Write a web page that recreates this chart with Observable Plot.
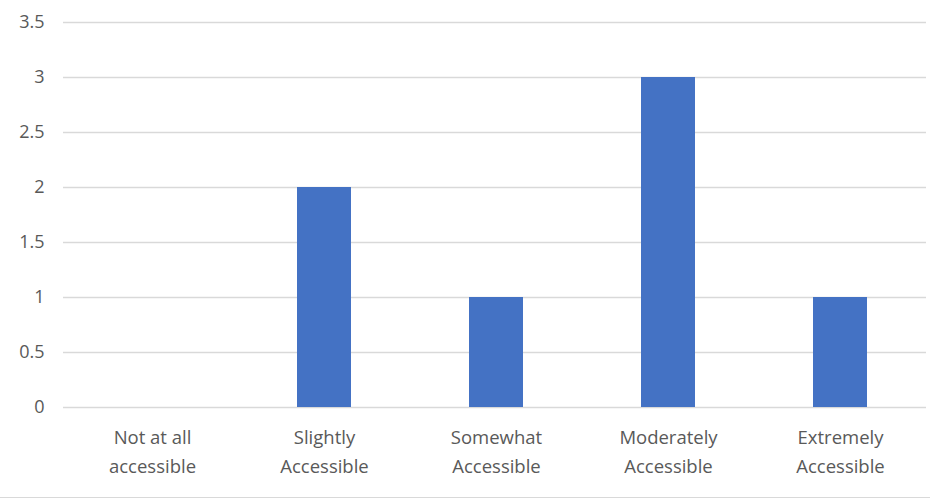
<!DOCTYPE html>
<html>
<head>
<meta charset="utf-8">
<script src="https://cdn.jsdelivr.net/npm/d3@7"></script>
<script src="https://cdn.jsdelivr.net/npm/@observablehq/plot@0.6"></script>
<style>
  html, body { margin: 0; padding: 0; background: #fff; }
  #chart { width: 930px; border-bottom: 1px solid #d9d9d9; }
  #chart svg { display: block; }
</style>
</head>
<body>
<div id="chart"></div>
<script>
// Survey responses: how accessible respondents found the service
const categories = [
  "Not at all\naccessible",
  "Slightly\nAccessible",
  "Somewhat\nAccessible",
  "Moderately\nAccessible",
  "Extremely\nAccessible"
];
const counts = [0, 2, 1, 3, 1];
const yTicks = [0, 0.5, 1, 1.5, 2, 2.5, 3, 3.5];

const data = categories.map((c, i) => ({category: c, count: counts[i]}));

const textColor = "#595959";
const gridColor = "#d9d9d9";
const font = "'Open Sans', sans-serif";

const chart = Plot.plot({
  width: 930,
  height: 497,
  marginTop: 22,
  marginBottom: 90,
  marginLeft: 66,
  marginRight: 4,
  style: {fontFamily: font, fontSize: "18px", color: textColor, background: "#fff"},
  x: {domain: categories, padding: 0},
  y: {domain: [0, 3.5], ticks: yTicks},
  marks: [
    Plot.ruleY(yTicks, {stroke: gridColor, strokeWidth: 1.3, insetLeft: -3}),
    Plot.barY(data, {x: "category", y: "count", fill: "#4472C4", insetLeft: 59, insetRight: 59}),
    Plot.axisY({ticks: yTicks, tickFormat: d => String(d), tickSize: 0, tickPadding: 22, label: null, fill: textColor, fontSize: 18}),
    Plot.axisX({tickSize: 0, tickPadding: 16, label: null, fill: textColor, fontSize: 18.5, lineHeight: 1.58})
  ]
});
document.getElementById("chart").appendChild(chart);
</script>
</body>
</html>
